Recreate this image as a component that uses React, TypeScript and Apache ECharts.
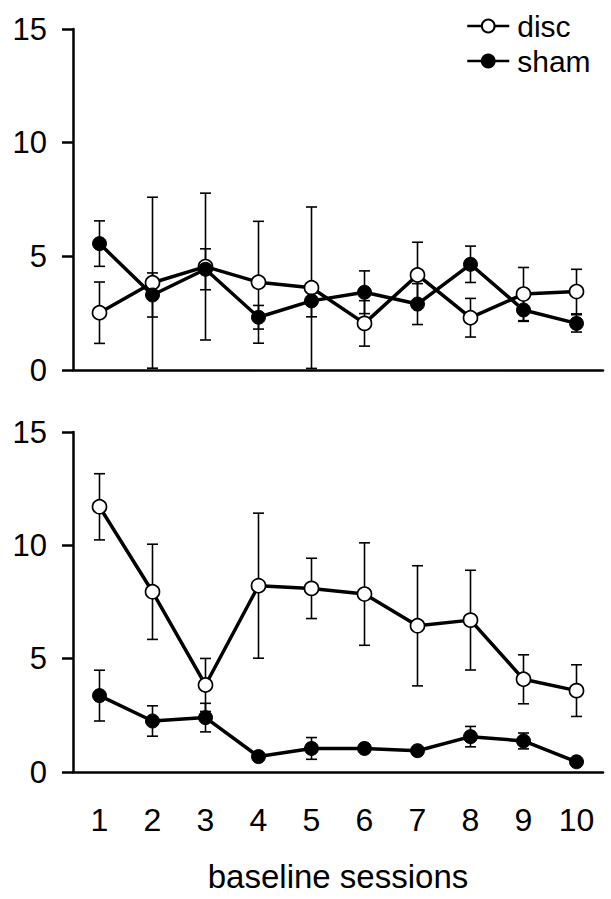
import React, { useEffect, useRef } from "react";
import * as echarts from "echarts";

const sessions = ["1", "2", "3", "4", "5", "6", "7", "8", "9", "10"];
const yTicks = [0, 5, 10, 15];

const topDisc = [2.52, 3.84, 4.55, 3.86, 3.62, 2.05, 4.18, 2.3, 3.34, 3.45];
const topDiscErr = [1.35, 3.76, 3.23, 2.68, 3.55, 1.0, 1.44, 0.85, 1.17, 0.98];
const topSham = [5.56, 3.3, 4.43, 2.32, 3.04, 3.42, 2.9, 4.65, 2.64, 2.05];
const topShamErr = [1.0, 0.97, 0.9, 0.52, 0.7, 0.94, 0.9, 0.8, 0.5, 0.38];

const botDisc = [11.7, 7.95, 3.84, 8.22, 8.1, 7.85, 6.45, 6.7, 4.09, 3.59];
const botDiscErr = [1.46, 2.1, 1.17, 3.2, 1.33, 2.26, 2.65, 2.2, 1.08, 1.14];
const botSham = [3.37, 2.25, 2.4, 0.68, 1.04, 1.04, 0.94, 1.56, 1.37, 0.45];
const botShamErr = [1.12, 0.67, 0.63, 0.1, 0.48, 0.15, 0.15, 0.45, 0.35, 0.1];

const FONT = "Liberation Sans";

function errData(vals: number[], errs: number[]) {
  return vals.map((v, i) => [i, v - errs[i], v + errs[i]]);
}

function errSeries(vals: number[], errs: number[], idx: number) {
  return {
    type: "custom",
    xAxisIndex: idx,
    yAxisIndex: idx,
    z: 1,
    silent: true,
    encode: { x: 0, y: [1, 2] },
    data: errData(vals, errs),
    renderItem: (params: any, api: any) => {
      const x = api.value(0);
      const lo = api.coord([x, api.value(1)]);
      const hi = api.coord([x, api.value(2)]);
      const w = 5.5;
      const st = { stroke: "#000", lineWidth: 1.6 };
      return {
        type: "group",
        children: [
          { type: "line", shape: { x1: hi[0], y1: hi[1], x2: lo[0], y2: lo[1] }, style: st },
          { type: "line", shape: { x1: hi[0] - w, y1: hi[1], x2: hi[0] + w, y2: hi[1] }, style: st },
          { type: "line", shape: { x1: lo[0] - w, y1: lo[1], x2: lo[0] + w, y2: lo[1] }, style: st },
        ],
      };
    },
  };
}

function lineSeries(name: string, vals: number[], idx: number, open: boolean) {
  return {
    type: "line",
    name,
    xAxisIndex: idx,
    yAxisIndex: idx,
    data: vals,
    z: open ? 3 : 4,
    symbol: "circle",
    symbolSize: 14,
    showAllSymbol: true,
    lineStyle: { color: "#000", width: 3.5 },
    itemStyle: open
      ? { color: "#fff", borderColor: "#000", borderWidth: 1.7 }
      : { color: "#000", borderColor: "#000", borderWidth: 1 },
  };
}

function yAxis(idx: number) {
  return {
    type: "value",
    gridIndex: idx,
    min: 0,
    max: 15,
    interval: 5,
    axisLine: { show: true, lineStyle: { color: "#000", width: 2.5 } },
    axisTick: { show: true, length: 11, lineStyle: { color: "#000", width: 2.5 } },
    splitLine: { show: false },
    axisLabel: {
      color: "#000",
      fontSize: 31,
      fontFamily: FONT,
      margin: 26,
      formatter: (v: number) => (yTicks.includes(v) ? String(v) : ""),
    },
  };
}

export default function App() {
  const ref = useRef<HTMLDivElement>(null);
  useEffect(() => {
    if (!ref.current) return;
    const chart = echarts.init(ref.current, null, { renderer: "svg" });
    chart.setOption({
      animation: false,
      backgroundColor: "#fff",
      grid: [
        { left: 73, top: 29, width: 530, height: 341 },
        { left: 73, top: 432, width: 530, height: 340 },
      ],
      legend: {
        orient: "vertical",
        left: 461,
        top: 6,
        itemWidth: 42,
        itemHeight: 16,
        itemGap: 5,
        data: ["disc", "sham"],
        lineStyle: { width: 2.5, color: "#000" },
        textStyle: {
          color: "#000",
          fontSize: 30,
          fontFamily: FONT,
          lineHeight: 30,
          padding: [0, 0, 0, 3],
        },
      },
      xAxis: [
        {
          type: "category",
          gridIndex: 0,
          data: sessions,
          boundaryGap: true,
          axisLine: { show: true, lineStyle: { color: "#000", width: 2.5 } },
          axisTick: { show: false },
          axisLabel: { show: false },
        },
        {
          type: "category",
          gridIndex: 1,
          data: sessions,
          boundaryGap: true,
          axisLine: { show: true, lineStyle: { color: "#000", width: 2.5 } },
          axisTick: { show: false },
          axisLabel: { color: "#000", fontSize: 32, fontFamily: FONT, margin: 32 },
          name: "baseline sessions",
          nameLocation: "middle",
          nameGap: 88,
          nameTextStyle: { color: "#000", fontSize: 33, fontFamily: FONT },
        },
      ],
      yAxis: [yAxis(0), yAxis(1)],
      series: [
        errSeries(topDisc, topDiscErr, 0),
        errSeries(topSham, topShamErr, 0),
        errSeries(botDisc, botDiscErr, 1),
        errSeries(botSham, botShamErr, 1),
        lineSeries("disc", topDisc, 0, true),
        lineSeries("sham", topSham, 0, false),
        lineSeries("disc", botDisc, 1, true),
        lineSeries("sham", botSham, 1, false),
      ],
    });
    return () => chart.dispose();
  }, []);
  return (
    <div
      ref={ref}
      style={{ position: "fixed", left: 0, top: 0, width: 611, height: 899, background: "#fff" }}
    />
  );
}
